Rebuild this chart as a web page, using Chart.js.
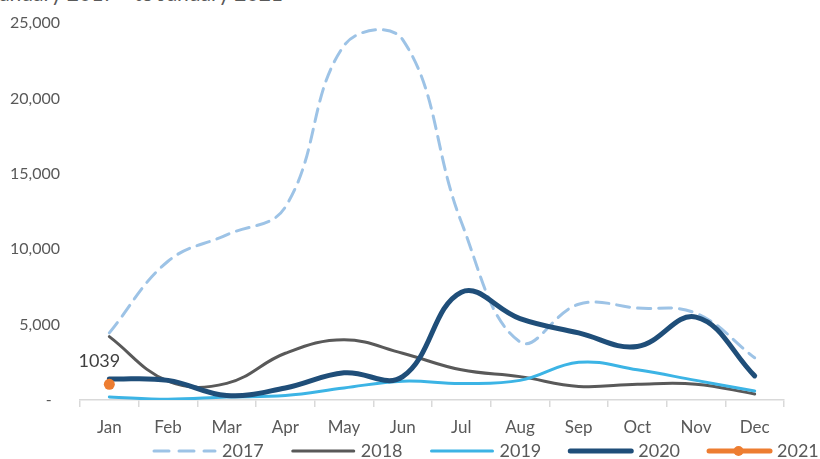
<!DOCTYPE html>
<html>
<head>
<meta charset="utf-8">
<script src="https://cdn.jsdelivr.net/npm/chart.js@4"></script>
<style>
  html, body { margin: 0; padding: 0; background: #fff; overflow: hidden; }
  #wrap { position: relative; width: 820px; height: 459px; overflow: hidden; }
  #title { position: absolute; right: 537px; top: -17px; font: 21px Lato, sans-serif; line-height: 20px; color: #595959; white-space: nowrap; }
  canvas { position: absolute; left: 0; top: 0; }
</style>
</head>
<body>
<div id="wrap">
  <div id="title">January 2017 - to January 2021</div>
  <canvas id="c" width="820" height="459"></canvas>
</div>
<script>
const categories = ['Jan','Feb','Mar','Apr','May','Jun','Jul','Aug','Sep','Oct','Nov','Dec'];
const seriesNames = ['2017','2018','2019','2020','2021'];
const values2017 = [4450, 9200, 10950, 12800, 23500, 23900, 11800, 3850, 6350, 6100, 5750, 2800];
const values2018 = [4200, 1250, 1100, 3100, 4000, 3100, 2000, 1550, 900, 1050, 1050, 400];
const values2019 = [200, 50, 200, 300, 800, 1250, 1100, 1300, 2500, 2000, 1300, 600];
const values2020 = [1400, 1300, 300, 800, 1800, 1550, 7150, 5400, 4450, 3550, 5500, 1600];
const values2021 = [1039, null, null, null, null, null, null, null, null, null, null, null];
const yTicks = [0, 5000, 10000, 15000, 20000, 25000];

const FONT = 'Lato';
const TXT = '#595959';

const datasets = [
  { label: seriesNames[0], data: values2017, borderColor: '#9dc3e6', borderWidth: 3, borderDash: [13, 8], order: 5, tension: 0.4 },
  { label: seriesNames[1], data: values2018, borderColor: '#595959', borderWidth: 3, order: 4, tension: 0.4 },
  { label: seriesNames[2], data: values2019, borderColor: '#3cb4e5', borderWidth: 3, order: 3, tension: 0.4 },
  { label: seriesNames[3], data: values2020, borderColor: '#1f4e79', borderWidth: 5, order: 2, tension: 0.4 },
  { label: seriesNames[4], data: values2021, borderColor: '#ed7d31', backgroundColor: '#ed7d31', borderWidth: 5, order: 1,
    pointRadius: 5.5, pointBorderWidth: 0, pointBackgroundColor: '#ed7d31' }
].map(d => Object.assign({ pointRadius: 0, fill: false, borderCapStyle: 'round', borderJoinStyle: 'round', cubicInterpolationMode: 'default' }, d));

const legendPlugin = {
  id: 'customLegend',
  afterDraw(chart) {
    const ctx = chart.ctx;
    ctx.save();
    ctx.font = '18px ' + FONT;
    ctx.textBaseline = 'alphabetic';
    let x = 153;
    const yLine = 451, yText = 457, lineLen = 63;
    chart.data.datasets.forEach((ds) => {
      ctx.beginPath();
      ctx.strokeStyle = ds.borderColor;
      ctx.lineWidth = ds.borderWidth;
      ctx.lineCap = 'round';
      ctx.setLineDash(ds.borderDash ? [15, 10] : []);
      ctx.moveTo(x + 1, yLine);
      ctx.lineTo(x + lineLen - 1, yLine);
      ctx.stroke();
      ctx.setLineDash([]);
      if (ds.label === '2021') {
        ctx.beginPath();
        ctx.fillStyle = ds.borderColor;
        ctx.arc(x + lineLen / 2 - 1, yLine, 5, 0, Math.PI * 2);
        ctx.fill();
      }
      ctx.fillStyle = TXT;
      ctx.fillText(ds.label, x + lineLen + 6, yText);
      x += lineLen + 6 + ctx.measureText(ds.label).width + 28;
    });
    ctx.restore();
  }
};

const labelPlugin = {
  id: 'pointLabel',
  afterDatasetsDraw(chart) {
    const idx = chart.data.datasets.findIndex(d => d.label === '2021');
    const meta = chart.getDatasetMeta(idx);
    const pt = meta.data[0];
    const ctx = chart.ctx;
    ctx.save();
    ctx.font = '18px ' + FONT;
    ctx.fillStyle = '#404040';
    ctx.textAlign = 'center';
    ctx.textBaseline = 'alphabetic';
    ctx.fillText(String(values2021[0]), pt.x - 10, pt.y - 17);
    ctx.restore();
  }
};

new Chart(document.getElementById('c'), {
  type: 'line',
  data: { labels: categories, datasets },
  options: {
    responsive: false,
    animation: false,
    layout: { padding: { top: 23, right: 36, bottom: 17, left: 0 } },
    plugins: { legend: { display: false }, tooltip: { enabled: false }, title: { display: false } },
    scales: {
      x: {
        offset: true,
        grid: { display: true, offset: true, drawOnChartArea: false, drawTicks: true, tickLength: 7, color: '#d9d9d9', lineWidth: 1.5 },
        border: { display: true, color: '#d9d9d9', width: 1.5 },
        ticks: { color: TXT, font: { family: FONT, size: 17 }, padding: 10, maxRotation: 0, autoSkip: false },
        afterFit(s) { s.height = 42; }
      },
      y: {
        min: 0, max: 25000,
        afterBuildTicks(s) { s.ticks = yTicks.map(v => ({ value: v })); },
        grid: { display: false, drawTicks: false },
        border: { display: false },
        ticks: {
          color: TXT, font: { family: FONT, size: 16 }, padding: 20,
          callback: (v) => v === 0 ? '-  ' : v.toLocaleString('en-US')
        },
        afterFit(s) { s.width = 80; s.paddingTop = 0; s.paddingBottom = 0; }
      }
    }
  },
  plugins: [labelPlugin, legendPlugin]
});
</script>
</body>
</html>
